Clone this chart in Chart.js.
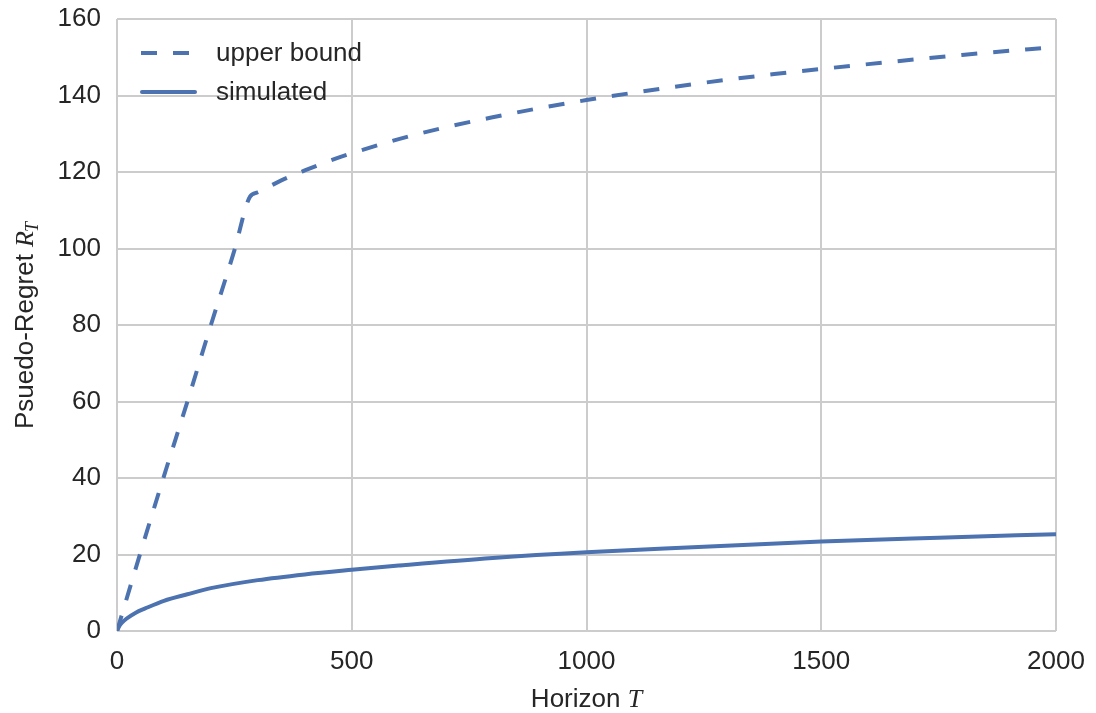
<!DOCTYPE html>
<html>
<head>
<meta charset="utf-8">
<script src="https://cdn.jsdelivr.net/npm/chart.js@4.4.0/dist/chart.umd.min.js"></script>
<style>
  html, body { margin: 0; padding: 0; background: #fff; }
  #wrap { width: 1096px; height: 713px; }
</style>
</head>
<body>
<div id="wrap"><canvas id="regretChart" width="1096" height="713"></canvas></div>
<script>
// data
const horizonUpper = [0, 50, 100, 150, 200, 250, 283, 300, 350, 400, 450, 500, 600, 700, 800, 900, 1000, 1200, 1400, 1600, 1800, 2000];
const upperBound = [0, 20.5, 40.5, 60, 80, 99.5, 113.5, 114.7, 117.8, 120.4, 122.8, 124.9, 128.6, 131.7, 134.3, 136.7, 138.8, 142.5, 145.6, 148.2, 150.6, 152.7];

const horizonSim = [0, 5, 10, 20, 40, 60, 100, 150, 200, 300, 400, 500, 600, 800, 1000, 1250, 1500, 1750, 2000];
const simulated = [0, 1.3, 2.1, 3.2, 4.8, 5.9, 7.9, 9.6, 11.2, 13.3, 14.8, 16, 17.1, 19.1, 20.6, 22, 23.4, 24.4, 25.3];

const xTicks = [0, 500, 1000, 1500, 2000];
const yTicks = [0, 20, 40, 60, 80, 100, 120, 140, 160];

const blue = '#4c72b0';
const textColor = '#262626';
const gridColor = '#cccccc';
const sans = '"Liberation Sans", Arial, sans-serif';
const serif = '"Liberation Serif", "DejaVu Serif", serif';

const toPoints = (xs, ys) => xs.map((x, i) => ({ x: x, y: ys[i] }));

// legend + axis titles (mixed math text) drawn by hand
const labelsPlugin = {
  id: 'labels',
  afterDraw(chart) {
    const ctx = chart.ctx;
    const area = chart.chartArea;
    ctx.save();
    ctx.fillStyle = textColor;
    ctx.textBaseline = 'alphabetic';

    // x title: "Horizon T"
    ctx.font = '26px ' + sans;
    const w1 = ctx.measureText('Horizon ').width;
    ctx.font = 'italic 26px ' + serif;
    const w2 = ctx.measureText('T').width;
    let x0 = (area.left + area.right) / 2 - (w1 + w2) / 2;
    const yBase = 707;
    ctx.font = '26px ' + sans;
    ctx.fillText('Horizon ', x0, yBase);
    ctx.font = 'italic 26px ' + serif;
    ctx.fillText('T', x0 + w1, yBase);

    // y title: "Psuedo-Regret R_T"
    ctx.save();
    ctx.translate(33, (area.top + area.bottom) / 2);
    ctx.rotate(-Math.PI / 2);
    ctx.font = '26px ' + sans;
    const a = ctx.measureText('Psuedo-Regret ').width;
    ctx.font = 'italic 26px ' + serif;
    const b = ctx.measureText('R').width;
    ctx.font = 'italic 18px ' + serif;
    const c = ctx.measureText('T').width;
    let s = -(a + b + c) / 2;
    ctx.font = '26px ' + sans;
    ctx.fillText('Psuedo-Regret ', s, 0);
    ctx.font = 'italic 26px ' + serif;
    ctx.fillText('R', s + a, 0);
    ctx.font = 'italic 18px ' + serif;
    ctx.fillText('T', s + a + b - 1, 5);
    ctx.restore();

    // legend
    const sets = chart.data.datasets;
    const rows = [53, 92];
    sets.forEach((ds, i) => {
      const y = rows[i];
      ctx.save();
      ctx.strokeStyle = ds.borderColor;
      ctx.lineWidth = ds.borderWidth;
      ctx.setLineDash(ds.borderDash || []);
      ctx.lineCap = ds.borderDash ? 'butt' : 'round';
      ctx.beginPath();
      if (ds.borderDash) {
        ctx.moveTo(141, y);
        ctx.lineTo(189, y);
      } else {
        ctx.moveTo(142, y);
        ctx.lineTo(195, y);
      }
      ctx.stroke();
      ctx.restore();
      ctx.font = '26px ' + sans;
      ctx.textBaseline = 'middle';
      ctx.fillText(ds.label, 216, y + 1);
    });
    ctx.restore();
  }
};

const ctx = document.getElementById('regretChart').getContext('2d');
new Chart(ctx, {
  type: 'line',
  data: {
    datasets: [
      {
        label: 'upper bound',
        data: toPoints(horizonUpper, upperBound),
        borderColor: blue,
        borderWidth: 4,
        borderDash: [16, 16],
        pointRadius: 0,
        fill: false,
        cubicInterpolationMode: 'monotone'
      },
      {
        label: 'simulated',
        data: toPoints(horizonSim, simulated),
        borderColor: blue,
        borderWidth: 4,
        pointRadius: 0,
        fill: false,
        cubicInterpolationMode: 'monotone'
      }
    ]
  },
  options: {
    responsive: false,
    animation: false,
    layout: { padding: { top: 19, right: 40, left: 0, bottom: 0 } },
    plugins: {
      legend: { display: false },
      tooltip: { enabled: false }
    },
    scales: {
      x: {
        type: 'linear',
        min: 0,
        max: 2000,
        afterBuildTicks: (scale) => { scale.ticks = xTicks.map(v => ({ value: v })); },
        afterFit: (scale) => {
          scale.height = 82;
          scale.paddingLeft = 0;
          scale.paddingRight = 0;
        },
        grid: { color: gridColor, lineWidth: 2, drawTicks: false },
        border: { display: false },
        ticks: { color: textColor, font: { family: sans, size: 26 }, padding: 15, maxRotation: 0,
                 callback: (v) => String(v) }
      },
      y: {
        type: 'linear',
        min: 0,
        max: 160,
        afterBuildTicks: (scale) => { scale.ticks = yTicks.map(v => ({ value: v })); },
        afterFit: (scale) => {
          scale.width = 117;
          scale.paddingTop = 0;
          scale.paddingBottom = 0;
        },
        grid: { color: gridColor, lineWidth: 2, drawTicks: false },
        border: { display: false },
        ticks: { color: textColor, font: { family: sans, size: 26 }, padding: 16,
                 callback: (v) => String(v) }
      }
    }
  },
  plugins: [labelsPlugin]
});
</script>
</body>
</html>
